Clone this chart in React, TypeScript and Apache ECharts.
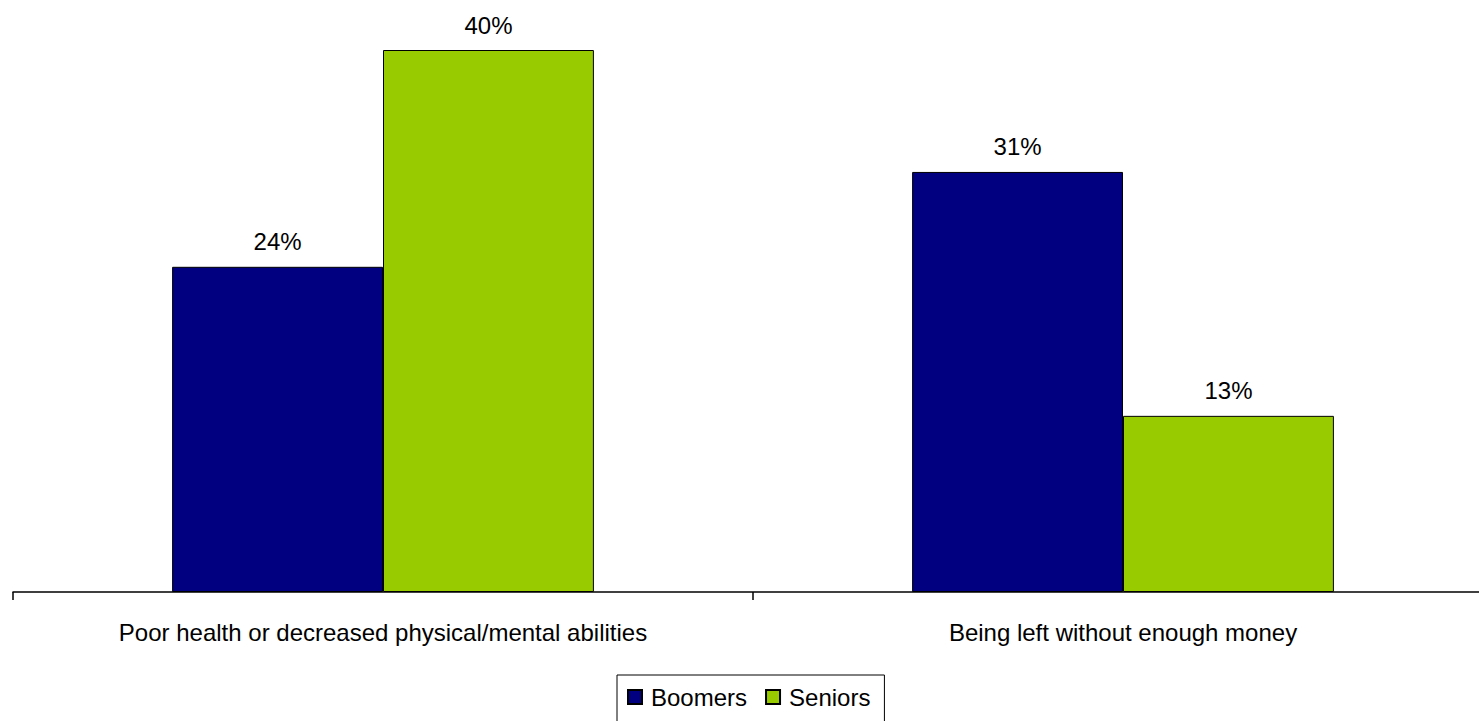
import React, { useEffect, useRef } from "react";
import * as echarts from "echarts";

const categories = [
  "Poor health or decreased physical/mental abilities",
  "Being left without enough money",
];
const boomers = [24, 31];
const seniors = [40, 13];

export default function App() {
  const ref = useRef<HTMLDivElement>(null);
  useEffect(() => {
    const chart = echarts.init(ref.current!, null, { renderer: "svg" });
    const font = "Liberation Sans, Arial, sans-serif";
    const fs = 24;
    const label = {
      show: true,
      position: "top" as const,
      distance: 13,
      formatter: "{c}%",
      color: "#000",
      fontSize: fs,
      fontFamily: font,
    };
    chart.setOption({
      animation: false,
      backgroundColor: "#fff",
      grid: { left: 13, top: 50, right: 0, bottom: 129, containLabel: false },
      legend: {
        left: 617,
        top: 675,
        padding: [10, 14, 20, 10],
        borderColor: "#000",
        borderWidth: 1,
        itemWidth: 14,
        itemHeight: 14,
        itemGap: 18,
        icon: "rect",
        textStyle: { fontSize: fs, color: "#000", fontFamily: font, padding: [0, 0, 0, 4] },
        data: ["Boomers", "Seniors"],
      },
      xAxis: {
        type: "category",
        data: categories,
        axisLine: { lineStyle: { color: "#000", width: 1.5 } },
        axisTick: { show: true, length: 8, alignWithLabel: false, lineStyle: { color: "#000", width: 1.5 } },
        axisLabel: { fontSize: fs, color: "#000", margin: 28, fontFamily: font },
      },
      yAxis: {
        type: "value",
        min: 0,
        max: 40,
        show: false,
        splitLine: { show: false },
      },
      series: [
        {
          name: "Boomers",
          type: "bar",
          data: boomers,
          barGap: "0%",
          barCategoryGap: "43%",
          itemStyle: { color: "#000080", borderColor: "#000", borderWidth: 1 },
          label,
        },
        {
          name: "Seniors",
          type: "bar",
          data: seniors,
          barGap: "0%",
          barCategoryGap: "43%",
          itemStyle: { color: "#99CC00", borderColor: "#000", borderWidth: 1 },
          label,
        },
      ],
    });
    return () => chart.dispose();
  }, []);
  return (
    <div style={{ position: "fixed", left: 0, top: 0, width: 1479, height: 721, overflow: "hidden", background: "#fff" }}>
      <div ref={ref} style={{ width: 1493, height: 721 }} />
    </div>
  );
}
